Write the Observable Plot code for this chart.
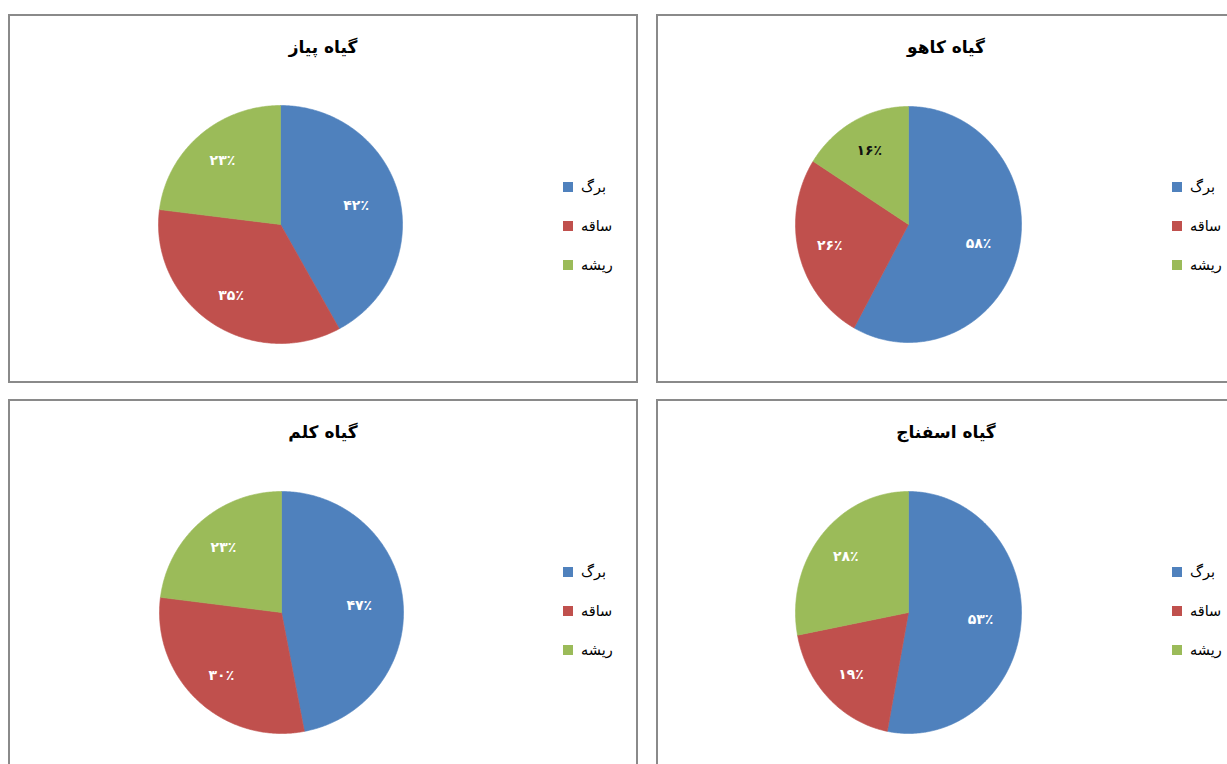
<!DOCTYPE html>
<html>
<head>
<meta charset="utf-8">
<script src="https://cdn.jsdelivr.net/npm/d3@7"></script>
<script src="https://cdn.jsdelivr.net/npm/@observablehq/plot@0.6"></script>
<style>
  html, body { margin: 0; padding: 0; background: #fff; }
  body { width: 1227px; height: 764px; overflow: hidden; position: relative; font-family: "DejaVu Sans", sans-serif; }
  .panel { position: absolute; box-sizing: border-box; border: 2px solid #8a8a8a; background: #fff; overflow: hidden; }
  .title { position: absolute; left: 0; right: 0; text-align: center; font-weight: bold; font-size: 17px; direction: rtl; color: #000; }
  .pie { position: absolute; }
  .legend { position: absolute; font-size: 14.5px; color: #000; }
  .legend .row { display: flex; align-items: center; height: 39px; }
  .legend .sw { width: 10px; height: 10px; margin-right: 8px; }
  .legend .lab { direction: rtl; }
</style>
</head>
<body>
<script>
// ---- data ----
const parts = ["برگ", "ساقه", "ریشه"];
const plantTitles = ["گیاه پیاز", "گیاه کاهو", "گیاه کلم", "گیاه اسفناج"];
const onionValues = [42, 35, 23];
const lettuceValues = [58, 26, 16];
const cabbageValues = [47, 30, 23];
const spinachValues = [53, 19, 28];
const partColors = ["#4F81BD", "#C0504D", "#9BBB59"];

// ---- layout (panel boxes, pie centres and radii) ----
const panels = [
  { title: plantTitles[0], values: onionValues,   left: 8,   top: 14,  width: 630, height: 369, cx: 272, cy: 210, rx: 122, ry: 119, legendLeft: 553, darkLabels: [] },
  { title: plantTitles[1], values: lettuceValues, left: 656, top: 14,  width: 580, height: 369, cx: 252, cy: 210, rx: 113, ry: 118, legendLeft: 514, darkLabels: ["ریشه"] },
  { title: plantTitles[2], values: cabbageValues, left: 8,   top: 399, width: 630, height: 380, cx: 273, cy: 213, rx: 122, ry: 121, legendLeft: 553, darkLabels: [] },
  { title: plantTitles[3], values: spinachValues, left: 656, top: 399, width: 580, height: 380, cx: 252, cy: 213, rx: 113, ry: 121, legendLeft: 514, darkLabels: [] }
];

const faDigits = "۰۱۲۳۴۵۶۷۸۹";
const toFa = (n) => String(n).replace(/[0-9]/g, (d) => faDigits[+d]);

function pieData(values) {
  const total = d3.sum(values);
  const arcs = d3.pie().sort(null).value((d) => d)(values); // starts at 12 o'clock, clockwise
  const wedgePts = [];
  const labels = [];
  arcs.forEach((a, i) => {
    const part = parts[i];
    wedgePts.push({ part, x: 0, y: 0 });
    const n = Math.max(2, Math.ceil((a.endAngle - a.startAngle) / 0.01));
    for (let k = 0; k <= n; k++) {
      const t = a.startAngle + (a.endAngle - a.startAngle) * k / n;
      wedgePts.push({ part, x: Math.sin(t), y: Math.cos(t) });
    }
    wedgePts.push({ part, x: 0, y: 0 });
    const mid = (a.startAngle + a.endAngle) / 2;
    const r = values[i] / total > 0.4 ? 0.64 : 0.72;
    labels.push({ part, x: r * Math.sin(mid), y: r * Math.cos(mid), text: toFa(Math.round(100 * values[i] / total)) + "٪" });
  });
  return { wedgePts, labels };
}

panels.forEach((p) => {
  const div = document.createElement("div");
  div.className = "panel";
  Object.assign(div.style, { left: p.left + "px", top: p.top + "px", width: p.width + "px", height: p.height + "px" });
  document.body.appendChild(div);

  const t = document.createElement("div");
  t.className = "title";
  t.style.top = "21px";
  t.textContent = p.title;
  div.appendChild(t);

  const { wedgePts, labels } = pieData(p.values);
  const m = 2;
  const chart = Plot.plot({
    width: 2 * p.rx + 2 * m,
    height: 2 * p.ry + 2 * m,
    margin: m,
    x: { domain: [-1, 1], axis: null },
    y: { domain: [-1, 1], axis: null },
    color: { domain: parts, range: partColors },
    style: { background: "transparent", overflow: "visible" },
    marks: [
      Plot.line(wedgePts, { x: "x", y: "y", z: "part", fill: "part", stroke: "part", strokeWidth: 0.6, curve: "linear" }),
      Plot.text(labels, { filter: (d) => !p.darkLabels.includes(d.part), x: "x", y: "y", text: "text", fill: "white", fontSize: 14, fontWeight: "bold", fontFamily: "DejaVu Sans" }),
      Plot.text(labels, { filter: (d) => p.darkLabels.includes(d.part), x: "x", y: "y", text: "text", fill: "#111", fontSize: 14, fontWeight: "bold", fontFamily: "DejaVu Sans" })
    ]
  });
  chart.classList.add("pie");
  chart.style.left = (p.cx - 2 - p.rx - m) + "px";
  chart.style.top = (p.cy - 2 - p.ry - m) + "px";
  div.appendChild(chart);

  const lg = document.createElement("div");
  lg.className = "legend";
  lg.style.left = p.legendLeft + "px";
  lg.style.top = "151px";
  parts.forEach((name, i) => {
    const row = document.createElement("div");
    row.className = "row";
    const sw = document.createElement("div");
    sw.className = "sw";
    sw.style.background = partColors[i];
    const lab = document.createElement("span");
    lab.className = "lab";
    lab.textContent = name;
    row.appendChild(sw);
    row.appendChild(lab);
    lg.appendChild(row);
  });
  div.appendChild(lg);
});
</script>
</body>
</html>
